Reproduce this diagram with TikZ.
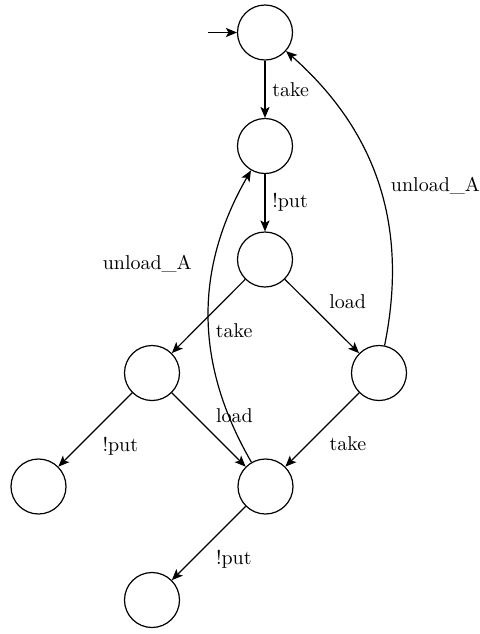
\documentclass[tikz,border=0pt]{standalone}
\usetikzlibrary{arrows.meta}
\begin{document}
\begin{tikzpicture}[x=0.5pt,y=0.5pt,
  state/.style={circle,draw,semithick,minimum size=27.5pt,inner sep=0pt},
  trans/.style={-{Stealth[length=5.5pt,width=4.6pt,inset=1.3pt]},semithick}]
\useasboundingbox (0,0) rectangle (479,-634);

% states on a 2cm grid
\node[state] (q0) at (265,-32.5) {};
\node[state] (q1) at (265,-146) {};
\node[state] (q2) at (265,-259.5) {};
\node[state] (q3) at (152,-373) {};
\node[state] (q4) at (379,-373) {};
\node[state] (q5) at (38.5,-486.5) {};
\node[state] (q6) at (265.5,-486.5) {};
\node[state] (q7) at (152,-600) {};

% initial marker
\coordinate (init) at (208,-32.5);
\draw[trans] (init) -- (q0);

% transitions
\draw[trans] (q0) -- node[auto] {take} (q1);
\draw[trans] (q1) -- node[auto] {!put} (q2);
\draw[trans] (q2) -- node[auto] {take} (q3);
\draw[trans] (q2) -- node[auto] {load} (q4);
\draw[trans] (q3) -- node[auto] {!put} (q5);
\draw[trans] (q3) -- node[auto] {load} (q6);
\draw[trans] (q4) -- node[auto] {take} (q6);
\draw[trans] (q6) -- node[auto] {!put} (q7);
\draw[trans] (q4) to[bend right=30] node[pos=0.44,auto,swap] {unload\_A} (q0);
\draw[trans] (q6) to[bend left=30] node[pos=0.68,anchor=east,xshift=-7.5pt] {unload\_A} (q1);
\end{tikzpicture}
\end{document}
